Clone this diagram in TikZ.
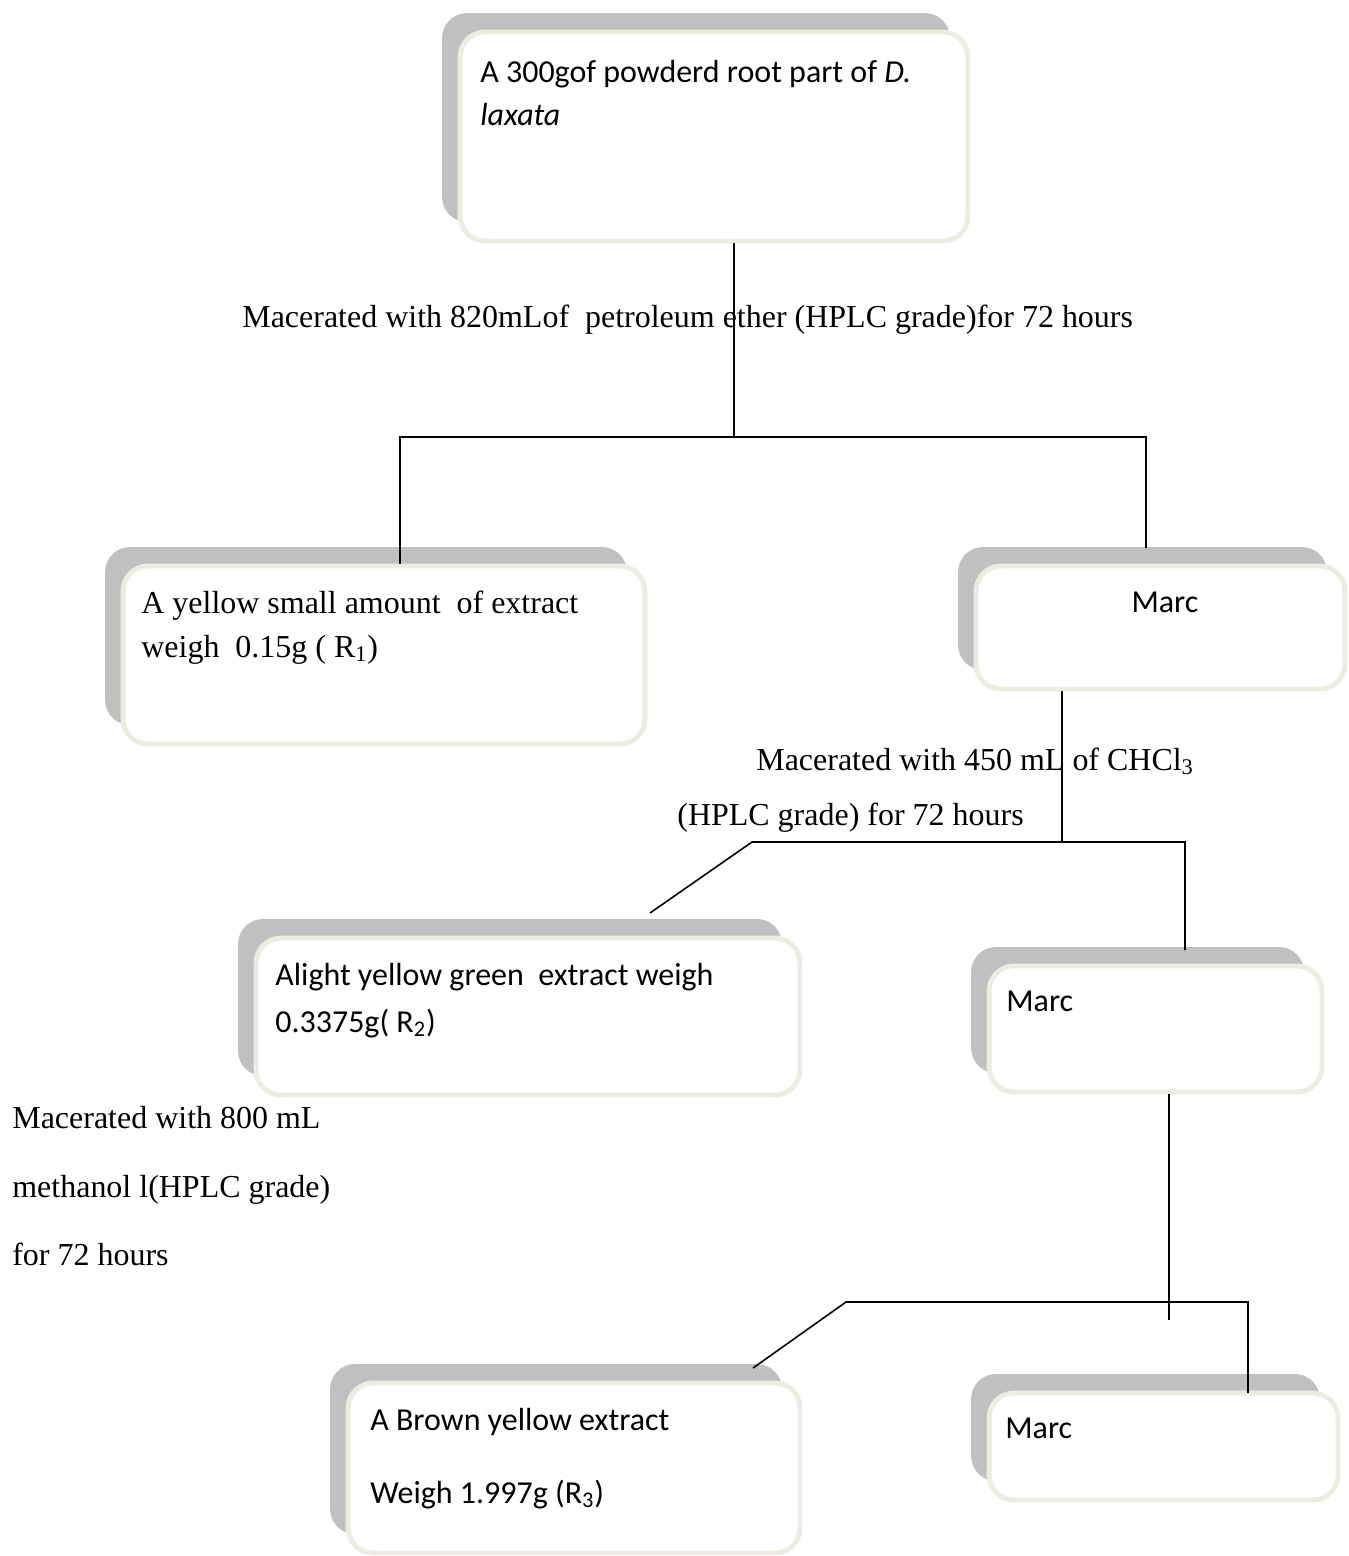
\documentclass[tikz,border=0pt]{standalone}
\usepackage{fontspec}
\setmainfont{Liberation Serif}
\newfontfamily\calibri{Carlito}
\usetikzlibrary{shadows}
\definecolor{myshadow}{HTML}{C0C0C0}
\definecolor{myframe}{HTML}{EEECE1}
\tikzset{
  stepbox/.style={draw=myframe, line width=2.8pt, fill=white, rounded corners=0.5cm,
    general shadow={fill=myshadow, shadow xshift=-0.36cm, shadow yshift=0.38cm}},
  txt/.style={anchor=base west, inner sep=0pt, font=\fontsize{18.2}{22}\selectfont},
  ctxt/.style={txt, font=\calibri\fontsize{18.2}{22}\selectfont},
  link/.style={line width=0.9pt}
}

\begin{document}
\begin{tikzpicture}[x=0.02cm, y=-0.02cm]
			\useasboundingbox (0,0) rectangle (1349,1556);
			% boxes
			\node[stepbox, minimum width=10.16cm, minimum height=4.18cm] (root) at (714,136.5) {};
			\node[stepbox, minimum width=10.44cm, minimum height=3.56cm] (r1) at (384,655) {};
			\node[stepbox, minimum width=7.38cm, minimum height=2.46cm] (m1) at (1160.5,627.5) {};
			\node[stepbox, minimum width=10.88cm, minimum height=3.14cm] (r2) at (528,1016.5) {};
			\node[stepbox, minimum width=6.66cm, minimum height=2.52cm] (m2) at (1155.5,1029) {};
			\node[stepbox, minimum width=9.04cm, minimum height=3.4cm] (r3) at (574,1468) {};
			\node[stepbox, minimum width=6.98cm, minimum height=2.14cm] (m3) at (1163.5,1446.5) {};
			% texts in boxes
			\node[ctxt] (roota) at (480,82) {A 300gof powderd root part of \textit{D.}};
			\node[ctxt] (rootb) at (480,125) {\textit{laxata}};
			\node[txt] (r1a) at (141,613) {A yellow small amount\ \ of extract};
			\node[txt] (r1b) at (141,657) {weigh\ \ 0.15g ( R\textsubscript{1})};
			\node[ctxt, anchor=base] (m1a) at (1165,612) {Marc};
			\node[ctxt] (r2a) at (275,985) {Alight yellow green\ \ extract weigh};
			\node[ctxt] (r2b) at (275,1032) {0.3375g( R\textsubscript{2})};
			\node[ctxt] (m2a) at (1006,1011) {Marc};
			\node[ctxt] (r3a) at (370,1430) {A Brown yellow extract};
			\node[ctxt] (r3b) at (370,1503) {Weigh 1.997g (R\textsubscript{3})};
			\node[ctxt] (m3a) at (1005,1438) {Marc};
			% step labels
			\node[txt] (s1) at (242,327) {Macerated with 820mLof\ \ petroleum ether (HPLC grade)for 72 hours};
			\node[txt] (s2a) at (756,770) {Macerated with 450 mL of CHCl\textsubscript{3}};
			\node[txt] (s2b) at (677,825) {(HPLC grade) for 72 hours};
			\node[txt] (s3a) at (12,1128) {Macerated with 800 mL};
			\node[txt] (s3b) at (12,1197) {methanol l(HPLC grade)};
			\node[txt] (s3c) at (12,1265) {for 72 hours};
			% connectors
			\coordinate (j1) at (734,437);
			\coordinate (j1l) at (400,437);
			\coordinate (j1r) at (1146,437);
			\coordinate (e1r) at (1146,548);
			\draw[link] (root.south -| j1) -- (j1);
			\draw[link] (j1l |- r1.north) -- (j1l) -- (j1r) -- (e1r);
			\coordinate (j2) at (1062,842);
			\coordinate (j2l) at (752,842);
			\coordinate (j2r) at (1185,842);
			\coordinate (e2l) at (650,913);
			\coordinate (e2r) at (1185,950);
			\draw[link] (m1.south -| j2) -- (j2);
			\draw[link] (e2l) -- (j2l) -- (j2r) -- (e2r);
			\coordinate (j3) at (1169,1320);
			\coordinate (j3l) at (846,1302);
			\coordinate (j3r) at (1248,1302);
			\coordinate (e3l) at (753,1368);
			\coordinate (e3r) at (1248,1393);
			\draw[link] (m2.south -| j3) -- (j3);
			\draw[link] (e3l) -- (j3l) -- (j3r) -- (e3r);
		\end{tikzpicture}
\end{document}
